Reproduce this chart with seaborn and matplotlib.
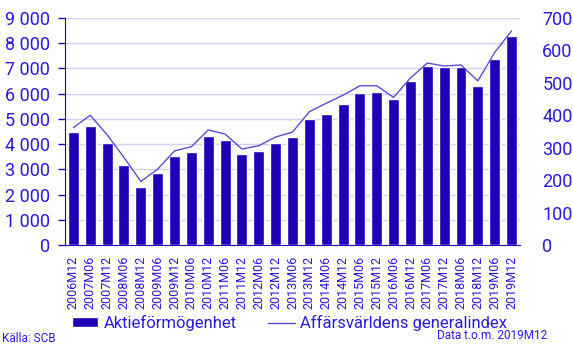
import numpy as np
import pandas as pd
import seaborn as sns
import matplotlib.pyplot as plt
from matplotlib.ticker import FuncFormatter, FixedLocator

# Data
periods = [
    "2006M12", "2007M06", "2007M12", "2008M06", "2008M12", "2009M06", "2009M12",
    "2010M06", "2010M12", "2011M06", "2011M12", "2012M06", "2012M12", "2013M06",
    "2013M12", "2014M06", "2014M12", "2015M06", "2015M12", "2016M06", "2016M12",
    "2017M06", "2017M12", "2018M06", "2018M12", "2019M06", "2019M12",
]
aktieformogenhet = [
    4460, 4720, 4060, 3190, 2300, 2870, 3540, 3700, 4340, 4180, 3620, 3730, 4060, 4300,
    5010, 5210, 5570, 6010, 6080, 5770, 6520, 7080, 7050, 7050, 6320, 7390, 8270,
]
generalindex = [
    362, 400, 340, 270, 196, 234, 290, 303, 355, 342, 296, 306, 333, 348,
    411, 437, 462, 491, 491, 455, 515, 561, 552, 555, 506, 594, 660,
]

bar_color = "#1f00b6"
line_color = "#5a4fd2"
text_color = "#2a1ad8"
grid_color = "#d4d0f2"

df = pd.DataFrame({"period": periods, "aktie": aktieformogenhet, "index": generalindex})

sns.set_style("white")
plt.rcParams["font.family"] = ["Roboto", "DejaVu Sans"]

fig = plt.figure(figsize=(5.73, 3.51), dpi=100)
ax = fig.add_axes([0.1134, 0.302, 0.7941, 0.6468])

sns.barplot(df, x="period", y="aktie", color=bar_color, width=0.65,
            saturation=1, ax=ax, label="Aktieförmögenhet", zorder=3)
ax.set_ylim(0, 9000)
ax.set_yticks(np.arange(0, 9001, 1000))
ax.yaxis.set_major_formatter(FuncFormatter(lambda v, p: f"{int(v):,}".replace(",", " ")))
ax.grid(axis="y", color=grid_color, linewidth=1, zorder=0)
ax.set_axisbelow(True)
ax.set_xlim(-0.5, len(periods) - 0.5)

ax2 = ax.twinx()
sns.lineplot(x=np.arange(len(periods)), y=df["index"], color=line_color, linewidth=1,
             ax=ax2, label="Affärsvärldens generalindex")
ax2.set_ylim(0, 700)
ax2.set_yticks(np.arange(0, 701, 100))
ax2.set_xlim(-0.5, len(periods) - 0.5)
ax2.get_legend().remove()

# Ticks and spines
ax.set_xticks(range(len(periods)))
ax.set_xticklabels(periods, rotation=90, fontsize=9, color=text_color)
ax.tick_params(axis="x", which="major", length=0, pad=8)
ax.xaxis.set_minor_locator(FixedLocator(np.arange(-0.5, len(periods), 1)))
ax.tick_params(axis="x", which="minor", length=5, color=bar_color, width=1)
ax.tick_params(axis="y", length=5, color=bar_color, width=1, labelsize=13,
               labelcolor=text_color, pad=6)
ax2.tick_params(axis="y", length=0, labelsize=13, labelcolor=text_color, pad=16)
for a in (ax, ax2):
    for s in ("top", "right"):
        a.spines[s].set_visible(False)
ax2.spines["left"].set_visible(False)
ax2.spines["bottom"].set_visible(False)
ax.spines["left"].set_color(bar_color)
ax.spines["bottom"].set_color(bar_color)
ax.set_xlabel("")
ax.set_ylabel("")
ax2.set_ylabel("")

# Legend
h1, l1 = ax.get_legend_handles_labels()
h2, l2 = ax2.get_legend_handles_labels()
if ax.get_legend():
    ax.get_legend().remove()
fig.legend(h1 + h2, l1 + l2, loc="center", bbox_to_anchor=(0.505, 0.08), ncol=2,
           frameon=False, fontsize=12, labelcolor=text_color, handlelength=1.6,
           handletextpad=0.3, columnspacing=1.9, handleheight=0.5)

fig.text(0.004, 0.018, "Källa: SCB", fontsize=8.5, color=text_color, ha="left", va="bottom")
fig.text(0.955, 0.025, "Data t.o.m. 2019M12", fontsize=8.5, color=text_color,
         ha="right", va="bottom")

fig.savefig("out.png", dpi=100)
